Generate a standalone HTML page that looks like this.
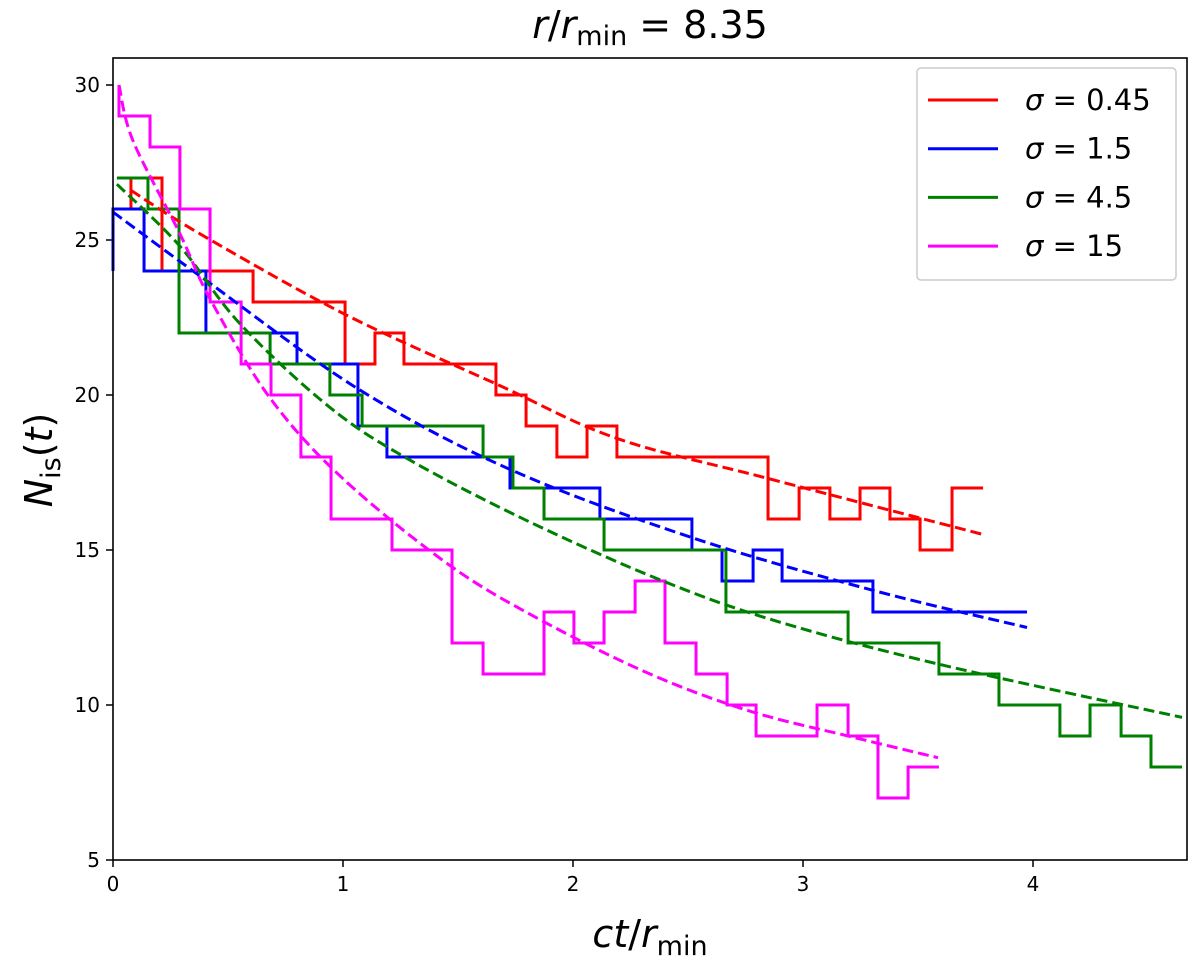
<!DOCTYPE html>
<html><head><meta charset="utf-8"><style>
html,body{margin:0;padding:0;background:#fff;}
svg{display:block;font-family:"DejaVu Sans","Liberation Sans",sans-serif;}
</style></head><body>
<svg id="chart" width="1200" height="959" viewBox="0 0 1200 959" xmlns="http://www.w3.org/2000/svg">
<text x="650" y="38" font-size="38" text-anchor="middle"><tspan font-style="italic">r</tspan>/<tspan font-style="italic">r</tspan><tspan font-size="27" dy="7">min</tspan><tspan dy="-7"> = 8.35</tspan></text>
<g id="ticks"></g>
<g id="series"></g>
<rect x="113" y="58" width="1074" height="802" fill="none" stroke="#000" stroke-width="1.6"/>
<text x="650" y="947" font-size="38" text-anchor="middle"><tspan font-style="italic">ct</tspan>/<tspan font-style="italic">r</tspan><tspan font-size="27" dy="8">min</tspan></text>
<text transform="translate(52,460) rotate(-90)" font-size="38" text-anchor="middle"><tspan font-style="italic">N</tspan><tspan font-size="27" dy="8">is</tspan><tspan dy="-8">(</tspan><tspan font-style="italic">t</tspan>)</text>
<g>
<rect x="917" y="68" width="259" height="212" rx="4" fill="#fff" stroke="#ccc" stroke-width="1.5"/>
<g id="legend-entries"></g>
</g>
</svg>
<script>
const redEdges=[0.078,0.213,0.609,1.009,1.139,1.265,1.665,1.796,1.930,2.061,2.191,2.848,2.983,3.117,3.248,3.378,3.509,3.648,3.783];
const redVals=[27,24,23,21,22,21,20,19,18,19,18,16,17,16,17,16,15,17];
const redStart=26;
const blueEdges=[0,0.135,0.404,0.8,1.065,1.191,1.726,2.117,2.517,2.648,2.783,2.909,3.304,3.974];
const blueVals=[26,24,22,21,19,18,17,16,15,14,15,14,13];
const blueStart=24;
const greenEdges=[0.017,0.152,0.287,0.683,0.943,1.083,1.609,1.739,1.874,2.135,2.665,3.196,3.591,3.852,4.117,4.248,4.383,4.513,4.648];
const greenVals=[27,26,22,21,20,19,18,17,16,15,13,12,11,10,9,10,9,8];
const greenStart=27;
const magEdges=[0.026,0.161,0.291,0.422,0.557,0.687,0.817,0.948,1.213,1.474,1.609,1.874,2.004,2.135,2.270,2.400,2.535,2.670,2.796,3.061,3.196,3.326,3.457,3.591];
const magVals=[29,28,26,23,21,20,18,16,15,12,11,13,12,13,14,12,11,10,9,10,9,7,8];
const magStart=30;
const redFitX=[0.078,0.378,1.009,1.683,2.191,2.852,3.783];
const redFitY=[26.6,25.2,22.6,20.3,18.6,17.3,15.5];
const blueFitX=[0,0.404,1.065,1.726,2.517,3.304,3.974];
const blueFitY=[25.9,23.7,20.2,17.6,15.4,13.7,12.5];
const greenFitX=[0.017,0.291,0.552,0.943,1.291,1.813,2.391,2.887,3.6,4.648];
const greenFitY=[26.8,24.8,22.3,19.6,17.9,15.9,14.0,12.7,11.3,9.6];
const magFitX=[0.026,0.087,0.291,0.422,0.683,1.0,1.465,1.870,2.335,2.770,3.196,3.587];
const magFitY=[30,28.2,25.2,23.1,19.9,17.3,14.5,12.7,11.0,9.8,9.0,8.3];
const xTicks=[0,1,2,3,4];
const yTicks=[5,10,15,20,25,30];
const legendLabels=["0.45","1.5","4.5","15"];
const NS="http://www.w3.org/2000/svg";
const X0=113,X1=1187,Y0=860,Y1=58,XMAX=(1187-113)/230,YMIN=5,YMAX=5+802/31;
function sx(v){return X0+(v/XMAX)*(X1-X0);}
function sy(v){return Y0-(v-YMIN)/(YMAX-YMIN)*(Y0-Y1);}
const tg=document.getElementById('ticks');
xTicks.forEach(t=>{
 const l=document.createElementNS(NS,'line');
 
 
 l.setAttribute('x1',sx(t));l.setAttribute('x2',sx(t));l.setAttribute('y1',860);l.setAttribute('y2',867);l.setAttribute('stroke','#000');l.setAttribute('stroke-width','1.5');
 tg.appendChild(l);
 const tx=document.createElementNS(NS,'text');
 
 
 tx.setAttribute('x',sx(t));tx.setAttribute('y',891);tx.setAttribute('font-size','20');tx.setAttribute('text-anchor','middle');
 tx.textContent=t;tg.appendChild(tx);
});
yTicks.forEach(t=>{
 const l=document.createElementNS(NS,'line');
 
 
 l.setAttribute('x1',106);l.setAttribute('x2',113);l.setAttribute('y1',sy(t));l.setAttribute('y2',sy(t));l.setAttribute('stroke','#000');l.setAttribute('stroke-width','1.5');
 tg.appendChild(l);
 const tx=document.createElementNS(NS,'text');
 
 
 tx.setAttribute('x',100);tx.setAttribute('y',sy(t)+7);tx.setAttribute('font-size','20');tx.setAttribute('text-anchor','end');
 tx.textContent=t;tg.appendChild(tx);
});
const sg=document.getElementById('series');
function stepPath(edges,vals,start){
 let d='M'+sx(edges[0])+','+sy(start);
 for(let i=0;i<vals.length;i++){d+=' L'+sx(edges[i])+','+sy(vals[i])+' L'+sx(edges[i+1])+','+sy(vals[i]);}
 return d;
}
function fitPath(xs,ys){
 const p=xs.map((x,i)=>[sx(x),sy(ys[i])]);
 let d='M'+p[0][0]+','+p[0][1];
 for(let i=0;i<p.length-1;i++){
  const a=p[Math.max(0,i-1)],b=p[i],c=p[i+1],e=p[Math.min(p.length-1,i+2)];
  const c1=[b[0]+(c[0]-a[0])/6,b[1]+(c[1]-a[1])/6],c2=[c[0]-(e[0]-b[0])/6,c[1]-(e[1]-b[1])/6];
  d+=' C'+c1[0]+','+c1[1]+' '+c2[0]+','+c2[1]+' '+c[0]+','+c[1];
 }
 return d;
}
const series=[
 ['red','#ff0000',redEdges,redVals,redStart,redFitX,redFitY],
 ['blue','#0000ff',blueEdges,blueVals,blueStart,blueFitX,blueFitY],
 ['green','#008000',greenEdges,greenVals,greenStart,greenFitX,greenFitY],
 ['magenta','#ff00ff',magEdges,magVals,magStart,magFitX,magFitY]
];
series.forEach(s=>{
 const p=document.createElementNS(NS,'path');
 
 
 p.setAttribute('d',stepPath(s[2],s[3],s[4]));p.setAttribute('fill','none');p.setAttribute('stroke',s[1]);p.setAttribute('stroke-width','3');p.setAttribute('stroke-linejoin','miter');
 sg.appendChild(p);
});
series.forEach(s=>{
 const f=document.createElementNS(NS,'path');
 
 
 f.setAttribute('d',fitPath(s[5],s[6]));f.setAttribute('fill','none');f.setAttribute('stroke',s[1]);f.setAttribute('stroke-width','3');f.setAttribute('stroke-dasharray','11,5');
 sg.appendChild(f);
});
const lg=document.getElementById('legend-entries');
series.forEach((s,i)=>{
 const y=100+i*48.7;
 const l=document.createElementNS(NS,'line');
 
 
 l.setAttribute('x1',928);l.setAttribute('x2',998);l.setAttribute('y1',y);l.setAttribute('y2',y);l.setAttribute('stroke',s[1]);l.setAttribute('stroke-width','3');
 lg.appendChild(l);
 const t=document.createElementNS(NS,'text');
 
 
 t.setAttribute('x',1025);t.setAttribute('y',y+10);t.setAttribute('font-size','29');
 t.innerHTML='<tspan font-style="italic">σ</tspan> = '+legendLabels[i];
 lg.appendChild(t);
});
</script>
</body></html>
